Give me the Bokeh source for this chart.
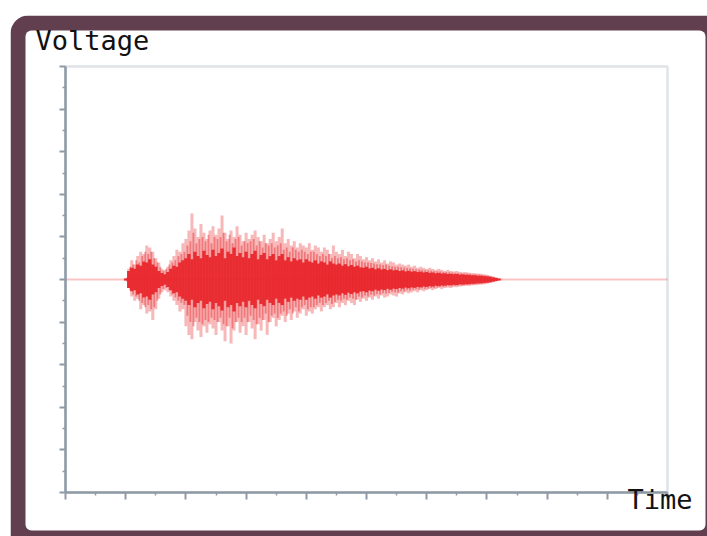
import numpy as np
from bokeh.plotting import figure
from bokeh.models import FixedTicker, BoxAnnotation, Label, ColumnDataSource
from bokeh.embed import file_html
from bokeh.resources import INLINE

# ---- data ----
T_START, T_STEP = 2.0, 0.1
SPIKE_HI = [0.05, 0.5, 0.9, 0.7, 1.1, 1.3, 1.2, 1.6, 1.5, 1.3,
            1.0, 0.8, 0.5, 0.45, 0.6, 0.9, 1.1, 1.4, 1.3, 1.7,
            1.9, 2.3, 3.1, 2.4, 2.0, 2.6, 2.2, 1.9, 2.3, 2.5,
            2.1, 2.4, 3.0, 2.2, 1.9, 2.3, 2.0, 2.5, 2.1, 1.8,
            2.2, 1.9, 2.1, 2.3, 2.0, 1.8, 2.1, 1.7, 1.9, 2.2,
            1.8, 2.0, 2.4, 1.7, 1.9, 1.6, 1.8, 1.5, 1.7, 1.6,
            1.5, 1.7, 1.4, 1.6, 1.5, 1.3, 1.5, 1.4, 1.2, 1.6,
            1.3, 1.2, 1.4, 1.1, 1.3, 1.2, 1.0, 1.2, 1.1, 0.95,
            1.05, 0.9, 1.0, 0.85, 0.95, 0.8, 0.9, 0.75, 0.85, 0.8,
            0.7, 0.75, 0.7, 0.65, 0.7, 0.6, 0.65, 0.55, 0.6, 0.55,
            0.5, 0.55, 0.5, 0.45, 0.5, 0.45, 0.4, 0.45, 0.4, 0.38,
            0.4, 0.36, 0.34, 0.35, 0.32, 0.3, 0.3, 0.28, 0.27, 0.25,
            0.22, 0.18, 0.14, 0.1, 0.05]
SPIKE_LO = [-0.05, -0.4, -0.8, -1.0, -0.9, -1.4, -1.2, -1.6, -1.5, -1.9,
            -1.4, -0.9, -0.6, -0.5, -0.6, -0.8, -1.0, -1.2, -1.5, -1.4,
            -2.2, -2.6, -2.8, -2.0, -2.4, -2.7, -2.2, -2.5, -2.1, -2.3,
            -2.6, -2.0, -2.4, -2.9, -2.2, -3.0, -2.4, -2.0, -2.5, -2.2,
            -2.6, -2.0, -2.3, -2.8, -2.1, -2.4, -1.9, -2.6, -2.0, -1.8,
            -2.2, -1.9, -1.7, -2.0, -1.6, -1.9, -1.5, -1.8, -1.6, -1.4,
            -1.7, -1.5, -1.6, -1.4, -1.3, -1.5, -1.3, -1.2, -1.4, -1.3,
            -1.1, -1.3, -1.1, -1.2, -1.0, -1.1, -1.2, -0.95, -1.05, -0.9,
            -1.0, -0.85, -0.95, -0.8, -0.9, -0.75, -0.85, -0.8, -0.7, -0.75,
            -0.8, -0.65, -0.7, -0.6, -0.65, -0.6, -0.55, -0.6, -0.5, -0.55,
            -0.5, -0.45, -0.5, -0.45, -0.4, -0.45, -0.4, -0.38, -0.4, -0.35,
            -0.36, -0.33, -0.32, -0.3, -0.3, -0.28, -0.27, -0.26, -0.24, -0.23,
            -0.2, -0.17, -0.13, -0.09, -0.05]
MID_HI = [0.1, 0.6, 0.7, 0.9, 0.8, 1.1, 1.3, 1.2, 1.3, 1.0,
          0.8, 0.6, 0.4, 0.5, 0.7, 0.8, 0.9, 1.1, 1.2, 1.3,
          1.6, 1.8, 2.2, 1.7, 1.9, 2.0, 1.8, 2.1, 1.7, 2.0,
          1.9, 2.0, 2.2, 1.8, 2.1, 1.7, 1.9, 2.0, 1.6, 1.8,
          1.7, 1.8, 1.9, 1.6, 1.8, 1.5, 1.7, 1.6, 1.7, 1.5,
          1.6, 1.7, 1.4, 1.5, 1.3, 1.5, 1.4, 1.3, 1.4, 1.3,
          1.2, 1.3, 1.3, 1.2, 1.1, 1.2, 1.1, 1.2, 1.0, 1.1,
          1.0, 1.05, 0.95, 1.0, 0.9, 0.95, 0.85, 0.9, 0.85, 0.8,
          0.8, 0.78, 0.75, 0.72, 0.7, 0.68, 0.7, 0.64, 0.62, 0.6,
          0.6, 0.58, 0.56, 0.54, 0.52, 0.5, 0.48, 0.47, 0.46, 0.44,
          0.43, 0.42, 0.4, 0.39, 0.38, 0.36, 0.35, 0.34, 0.33, 0.32,
          0.31, 0.3, 0.29, 0.28, 0.27, 0.25, 0.24, 0.23, 0.21, 0.2,
          0.18, 0.15, 0.12, 0.08, 0.04]
MID_LO = [-0.1, -0.5, -0.7, -0.8, -1.0, -1.1, -1.3, -1.2, -1.4, -1.3,
          -1.0, -0.7, -0.45, -0.4, -0.5, -0.7, -0.85, -1.0, -1.1, -1.2,
          -1.7, -2.0, -2.2, -1.8, -2.0, -2.1, -1.9, -2.0, -1.8, -1.9,
          -2.0, -1.8, -2.1, -2.2, -1.8, -2.3, -2.0, -1.8, -2.0, -1.8,
          -2.0, -1.7, -1.9, -2.1, -1.8, -1.9, -1.6, -2.0, -1.7, -1.6,
          -1.8, -1.6, -1.5, -1.7, -1.4, -1.6, -1.3, -1.5, -1.3, -1.2,
          -1.4, -1.3, -1.3, -1.2, -1.1, -1.2, -1.1, -1.0, -1.15, -1.05,
          -0.95, -1.0, -0.9, -0.95, -0.85, -0.9, -0.95, -0.8, -0.85, -0.75,
          -0.8, -0.72, -0.75, -0.68, -0.7, -0.64, -0.66, -0.62, -0.58, -0.6,
          -0.62, -0.55, -0.56, -0.5, -0.52, -0.48, -0.46, -0.48, -0.42, -0.44,
          -0.42, -0.4, -0.4, -0.37, -0.35, -0.35, -0.33, -0.32, -0.32, -0.3,
          -0.29, -0.28, -0.27, -0.26, -0.25, -0.24, -0.22, -0.21, -0.2, -0.19,
          -0.17, -0.14, -0.11, -0.08, -0.04]
CORE = [0.05, 0.4, 0.55, 0.5, 0.7, 0.65, 0.85, 0.8, 0.95, 0.7,
        0.6, 0.4, 0.3, 0.25, 0.35, 0.5, 0.65, 0.6, 0.8, 0.9,
        1.0, 1.2, 0.95, 1.3, 1.1, 1.0, 1.35, 1.15, 1.05, 1.4,
        1.1, 1.25, 1.45, 1.0, 1.3, 1.2, 1.5, 1.1, 1.25, 1.05,
        1.3, 1.0, 1.2, 1.35, 0.95, 1.15, 1.25, 0.95, 1.1, 1.2,
        0.9, 1.1, 1.2, 0.9, 1.05, 0.85, 1.0, 0.9, 0.95, 0.8,
        0.95, 0.85, 0.8, 0.9, 0.75, 0.85, 0.8, 0.7, 0.85, 0.75,
        0.7, 0.75, 0.65, 0.72, 0.62, 0.68, 0.6, 0.65, 0.57, 0.55,
        0.6, 0.52, 0.55, 0.48, 0.53, 0.47, 0.5, 0.44, 0.48, 0.43,
        0.45, 0.4, 0.43, 0.38, 0.41, 0.37, 0.39, 0.35, 0.37, 0.33,
        0.35, 0.31, 0.33, 0.29, 0.31, 0.28, 0.29, 0.26, 0.27, 0.25,
        0.26, 0.23, 0.24, 0.22, 0.22, 0.2, 0.2, 0.18, 0.18, 0.16,
        0.15, 0.13, 0.1, 0.07, 0.04]
BASE_T = [0.0, 20.0]
BASE_V = [0.0, 0.0]
X_MAJOR = [0, 2, 4, 6, 8, 10, 12, 14, 16, 18, 20]
X_MINOR = [1, 3, 5, 7, 9, 11, 13, 15, 17, 19]
Y_MAJOR = [-10, -8, -6, -4, -2, 0, 2, 4, 6, 8, 10]
Y_MINOR = [-9, -7, -5, -3, -1, 1, 3, 5, 7, 9]
Y_LABEL = "Voltage"
X_LABEL = "Time"

t = np.round(T_START + T_STEP * np.arange(len(SPIKE_HI)), 3)
src = ColumnDataSource(dict(t=t, tm=t + T_STEP / 2, hi=SPIKE_HI, lo=SPIKE_LO,
                            mhi=MID_HI, mlo=MID_LO,
                            chi=CORE, clo=[-c for c in CORE]))

# plot area: t 0..20 -> px 65..667, v -10..10 -> px 492..66
PX_T, PX_V = 30.1, 21.3
x0 = (10 - 65) / PX_T
x1 = (707 - 65) / PX_T
y1 = (279 - 15) / PX_V
y0 = (279 - 536) / PX_V

p = figure(width=707, height=536,
           min_border_left=10, min_border_right=0,
           min_border_top=15, min_border_bottom=0,
           x_range=(x0, x1), y_range=(y0, y1),
           x_axis_location="above",
           output_backend="svg", toolbar_location=None,
           background_fill_color="white", border_fill_color="white")
p.grid.visible = False
p.outline_line_color = None

MAROON = "#623f4f"
p.add_layout(BoxAnnotation(left=x0, right=60, top=y1, bottom=-60,
                           fill_color=MAROON, fill_alpha=1, line_color=None,
                           border_radius=18, level="underlay"))
p.add_layout(BoxAnnotation(left=(25 - 65) / PX_T, right=(705 - 65) / PX_T,
                           top=(279 - 30) / PX_V, bottom=(279 - 530) / PX_V,
                           fill_color="white", fill_alpha=1, line_color=None,
                           border_radius=6, level="underlay"))
# plot-area border (top & right visible)
p.add_layout(BoxAnnotation(left=X_MAJOR[0], right=X_MAJOR[-1],
                           top=Y_MAJOR[-1], bottom=Y_MAJOR[0],
                           fill_color=None, line_color="#98a4ae",
                           line_width=2.5, level="underlay"))

RED = "#e8262b"
# baseline
p.line(BASE_T, BASE_V, line_color="#ee3a3e", line_alpha=0.3, line_width=2)
# faint spikes
p.segment(x0="t", y0="lo", x1="t", y1="hi", source=src,
          line_color=RED, line_alpha=0.33, line_width=3.0)
p.segment(x0="tm", y0="mlo", x1="tm", y1="mhi", source=src,
          line_color=RED, line_alpha=0.45, line_width=1.8)
# dense core
p.segment(x0="t", y0="clo", x1="t", y1="chi", source=src,
          line_color=RED, line_alpha=0.95, line_width=3.3)

xa, ya = p.xaxis[0], p.yaxis[0]
xa.fixed_location = Y_MAJOR[0]
ya.fixed_location = X_MAJOR[0]
xa.bounds = (X_MAJOR[0], X_MAJOR[-1])
ya.bounds = (Y_MAJOR[0], Y_MAJOR[-1])
for ax, maj, mnr in ((xa, X_MAJOR, X_MINOR), (ya, Y_MAJOR, Y_MINOR)):
    ax.ticker = FixedTicker(ticks=maj, minor_ticks=mnr)
    ax.axis_line_color = "#8e9aa6"
    ax.axis_line_width = 2.5
    ax.major_tick_line_color = "#8e9aa6"
    ax.minor_tick_line_color = "#8e9aa6"
    ax.major_tick_line_width = 2
    ax.minor_tick_line_width = 1.5
    ax.major_label_text_font_size = "0px"
    ax.major_label_text_color = None
    ax.major_label_text_alpha = 0
# y axis: ticks point left (out); x axis placed above but drawn at bottom: ticks point down (in)
ya.major_tick_out, ya.major_tick_in = 6, 0
ya.minor_tick_out, ya.minor_tick_in = 3, 0
xa.major_tick_out, xa.major_tick_in = 0, 7
xa.minor_tick_out, xa.minor_tick_in = 0, 3

p.add_layout(Label(x=(35 - 65) / PX_T, y=(279 - 24) / PX_V, text=Y_LABEL,
                   text_baseline="top", text_font="DejaVu Sans Mono",
                   text_font_size="27px", text_color="#111111"))
p.add_layout(Label(x=(627 - 65) / PX_T, y=(279 - 483) / PX_V, text=X_LABEL,
                   text_baseline="top", text_font="DejaVu Sans Mono",
                   text_font_size="27px", text_color="#111111"))

open("out.html", "w").write(file_html(p, INLINE))
